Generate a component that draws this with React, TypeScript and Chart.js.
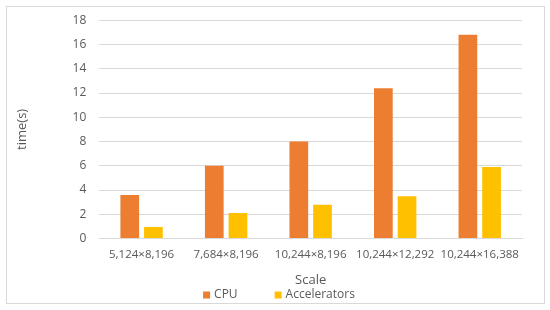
import React, { useEffect, useRef } from "react";
import { Chart, registerables } from "chart.js";

Chart.register(...registerables);

const categories = ["5,124×8,196", "7,684×8,196", "10,244×8,196", "10,244×12,292", "10,244×16,388"];
const cpuValues = [3.6, 6.0, 8.0, 12.4, 16.8];
const accValues = [0.95, 2.1, 2.8, 3.5, 5.9];
const yTitle = "time(s)";
const xTitle = "Scale";

const FONT = "'Open Sans', sans-serif";
const TEXT = "#595959";

const borderPlugin = {
  id: "outerBorder",
  beforeDraw(chart: any) {
    const ctx = chart.ctx;
    ctx.save();
    ctx.fillStyle = "#ffffff";
    ctx.fillRect(0, 0, chart.width, chart.height);
    ctx.strokeStyle = "#d9d9d9";
    ctx.lineWidth = 1;
    ctx.strokeRect(6.5, 6.5, 538, 297);
    ctx.restore();
  },
};

const legendPlugin = {
  id: "customLegend",
  afterDraw(chart: any) {
    const ctx = chart.ctx;
    const box = 7;
    const gap = 4;
    const itemGap = 37;
    ctx.save();
    ctx.font = `12px ${FONT}`;
    ctx.textBaseline = "middle";
    const items = chart.data.datasets.map((d: any) => ({
      label: d.label,
      color: d.backgroundColor,
      w: box + gap + ctx.measureText(d.label).width,
    }));
    const total = items.reduce((s: number, it: any) => s + it.w, 0) + itemGap * (items.length - 1);
    let x = chart.width / 2 + 4 - total / 2;
    const cy = 295;
    for (const it of items) {
      ctx.fillStyle = it.color;
      ctx.fillRect(x, cy - box / 2, box, box);
      ctx.fillStyle = TEXT;
      ctx.fillText(it.label, x + box + gap, cy);
      x += it.w + itemGap;
    }
    ctx.restore();
  },
};

export default function App() {
  const ref = useRef<HTMLCanvasElement>(null);
  useEffect(() => {
    const chart = new Chart(ref.current!, {
      type: "bar",
      data: {
        labels: categories,
        datasets: [
          { label: "CPU", data: cpuValues, backgroundColor: "#ED7D31", categoryPercentage: 0.56, barPercentage: 0.79 },
          { label: "Accelerators", data: accValues, backgroundColor: "#FFC000", categoryPercentage: 0.56, barPercentage: 0.79 },
        ],
      },
      options: {
        animation: false,
        responsive: false,
        maintainAspectRatio: false,
        layout: { padding: { left: 14, right: 28, top: 14, bottom: 22 } },
        plugins: {
          legend: { display: false },
          tooltip: { enabled: false },
        },
        scales: {
          x: {
            grid: { display: false, drawTicks: false },
            border: { display: true, color: "#d9d9d9" },
            ticks: { color: TEXT, font: { family: FONT, size: 11.5 }, maxRotation: 0, padding: 9 },
            title: { display: true, text: xTitle, color: TEXT, font: { family: FONT, size: 13 }, padding: { top: 2, bottom: 0 } },
          },
          y: {
            min: 0,
            max: 18,
            ticks: { stepSize: 2, color: TEXT, font: { family: FONT, size: 12 }, padding: 13 },
            grid: { color: "#d9d9d9", drawTicks: false },
            border: { display: false },
            title: { display: true, text: yTitle, color: TEXT, font: { family: FONT, size: 13 }, padding: { top: 0, bottom: 30 } },
          },
        },
      },
      plugins: [borderPlugin, legendPlugin],
    });
    return () => chart.destroy();
  }, []);
  return (
    <div style={{ position: "absolute", left: 0, top: 0, width: 550, height: 310 }}>
      <canvas ref={ref} width={550} height={310} />
    </div>
  );
}
